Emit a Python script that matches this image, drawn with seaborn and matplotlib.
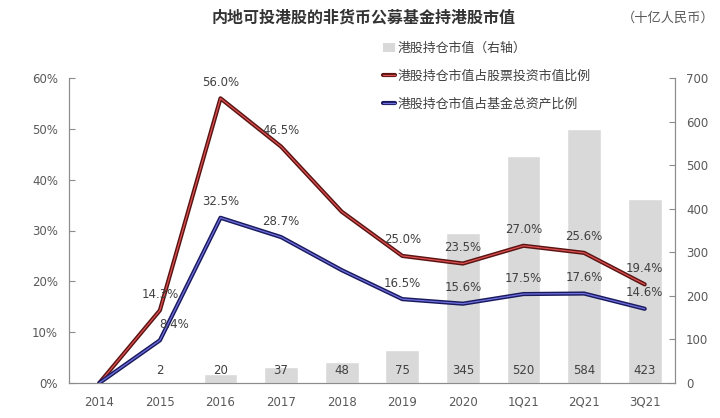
import numpy as np
import matplotlib
matplotlib.use("Agg")
import matplotlib.pyplot as plt
import matplotlib.patheffects as pe
from matplotlib.lines import Line2D
from matplotlib.patches import Patch
import seaborn as sns

categories = ["2014", "2015", "2016", "2017", "2018", "2019", "2020", "1Q21", "2Q21", "3Q21"]
hk_value = [0, 2, 20, 37, 48, 75, 345, 520, 584, 423]
stock_ratio = [0.0, 14.3, 56.0, 46.5, 33.7, 25.0, 23.5, 27.0, 25.6, 19.4]
asset_ratio = [0.0, 8.4, 32.5, 28.7, 22.2, 16.5, 15.6, 17.5, 17.6, 14.6]
stock_labels = [None, "14.3%", "56.0%", "46.5%", None, "25.0%", "23.5%", "27.0%", "25.6%", "19.4%"]
asset_labels = [None, "8.4%", "32.5%", "28.7%", None, "16.5%", "15.6%", "17.5%", "17.6%", "14.6%"]
bar_labels = [None, "2", "20", "37", "48", "75", "345", "520", "584", "423"]

sns.set_style("white")
plt.rcParams["font.family"] = ["DejaVu Sans", "Noto Sans CJK SC"]
txt = "#595959"
spine = "#8c8c8c"

fig = plt.figure(figsize=(7.2, 4.18), dpi=100)
ax = fig.add_axes([69 / 720, 1 - 383 / 418, 606 / 720, 305 / 418])
ax2 = ax.twinx()

x = np.arange(len(categories))
sns.barplot(x=x, y=hk_value, color="#d9d9d9", width=0.56, saturation=1, ax=ax2)
for i, lab in enumerate(bar_labels):
    if lab:
        ax2.annotate(lab, (i, 0), xytext=(0, 4), textcoords="offset points",
                     ha="center", va="bottom", fontsize=8.5, color="#404040")

red_fx = [pe.Stroke(linewidth=3.0, foreground="#5a1414"), pe.Normal()]
blue_fx = [pe.Stroke(linewidth=3.0, foreground="#1a1a5e"), pe.Normal()]
sns.lineplot(x=x, y=stock_ratio, color="#e05050", linewidth=0.9, ax=ax, path_effects=red_fx)
sns.lineplot(x=x, y=asset_ratio, color="#7070e0", linewidth=0.9, ax=ax, path_effects=blue_fx)

for i, lab in enumerate(stock_labels):
    if lab:
        ax.annotate(lab, (i, stock_ratio[i]), xytext=(0, 11.5), textcoords="offset points",
                    ha="center", va="center", fontsize=8.5, color="#404040")
for i, lab in enumerate(asset_labels):
    if lab:
        dx = 10 if i == 1 else 0
        ax.annotate(lab, (i, asset_ratio[i]), xytext=(dx, 11.5), textcoords="offset points",
                    ha="center", va="center", fontsize=8.5, color="#404040")

ax.set_zorder(ax2.get_zorder() + 1)
ax.patch.set_visible(False)

ax.set_xlim(-0.5, len(categories) - 0.5)
ax.set_ylim(0, 60)
ax2.set_ylim(0, 700)
ax.set_yticks(range(0, 61, 10))
ax.set_yticklabels([f"{v}%" for v in range(0, 61, 10)])
ax2.set_yticks(range(0, 701, 100))
ax.set_xticks(x)
ax.set_xticklabels(categories)
ax.set_xticks(np.arange(-0.5, len(categories), 1), minor=True)
ax.tick_params(axis="x", which="major", length=0, pad=9, labelsize=8.5, labelcolor=txt)
ax.tick_params(axis="x", which="minor", length=4, direction="in", color=spine)
ax.tick_params(axis="y", length=4, direction="in", color=spine, labelsize=8.5, labelcolor=txt, pad=8)
ax2.tick_params(axis="y", length=4, direction="in", color=spine, labelsize=8.5, labelcolor=txt, pad=8)
ax2.tick_params(axis="x", length=0)
for a in (ax, ax2):
    a.set_xlabel("")
    a.set_ylabel("")
    a.spines["top"].set_visible(False)
    for s in ("left", "right", "bottom"):
        a.spines[s].set_color(spine)
        a.spines[s].set_linewidth(0.8)

fig.text(0.505, 0.957, "内地可投港股的非货币公募基金持港股市值", ha="center", va="center",
         fontsize=11.5, fontweight="bold", color="#333333")
fig.text(0.928, 0.957, "（十亿人民币）", ha="center", va="center", fontsize=9.5, color=txt)

handles = [
    Patch(facecolor="#d9d9d9", edgecolor="none"),
    Line2D([], [], color="#e05050", linewidth=0.9, path_effects=red_fx),
    Line2D([], [], color="#7070e0", linewidth=0.9, path_effects=blue_fx),
]
names = ["港股持仓市值（右轴）", "港股持仓市值占股票投资市值比例", "港股持仓市值占基金总资产比例"]
fig.legend(handles, names, loc="upper left", bbox_to_anchor=(0.525, 0.912), frameon=False,
           fontsize=9.3, labelcolor="#404040", handlelength=0.9, handletextpad=0.2,
           labelspacing=1.15, borderaxespad=0)

fig.savefig("out.png", dpi=100)
